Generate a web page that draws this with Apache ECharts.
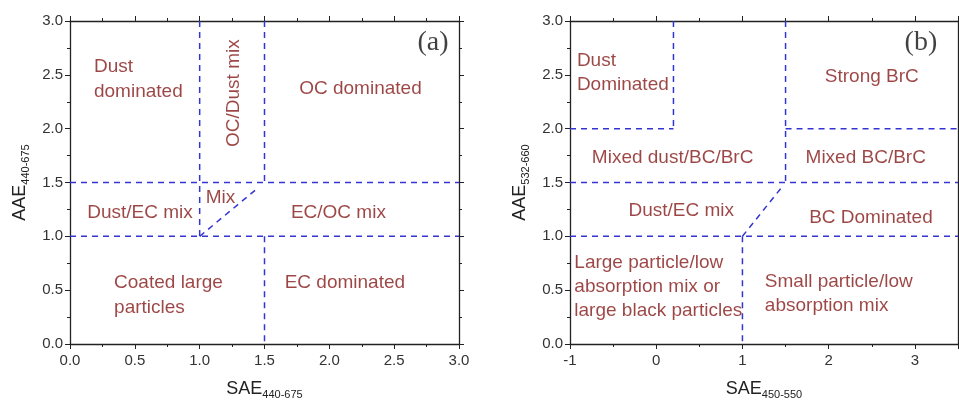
<!DOCTYPE html>
<html>
<head>
<meta charset="utf-8">
<script src="https://cdn.jsdelivr.net/npm/echarts@6/dist/echarts.min.js"></script>
<style>
  html, body { margin: 0; padding: 0; background: #fff; }
  #chart { width: 959px; height: 405px; }
</style>
</head>
<body>
<div id="chart"></div>
<script>
// boundary segments, each [[x0,y0],[x1,y1]] in data units
const linesA = [
  [[1, 3], [1, 1]],
  [[1.5, 3], [1.5, 1.5]],
  [[1.5, 1], [1.5, 0]],
  [[0, 1.5], [3, 1.5]],
  [[0, 1], [3, 1]],
  [[1, 1], [1.45, 1.45]]
];
const linesB = [
  [[0.2, 3], [0.2, 2]],
  [[-1, 2], [0.2, 2]],
  [[1.5, 3], [1.5, 1.5]],
  [[1.5, 2], [3.5, 2]],
  [[-1, 1.5], [3.5, 1.5]],
  [[-1, 1], [3.5, 1]],
  [[1, 1], [1.45, 1.45]],
  [[1, 1], [1, 0]]
];

// region labels: [x, y, text]
const centredA = [
  [2.24, 2.37, 'OC dominated'],
  [1.16, 1.36, 'Mix'],
  [0.54, 1.22, 'Dust/EC mix'],
  [2.07, 1.22, 'EC/OC mix'],
  [2.12, 0.57, 'EC dominated']
];
const leftA = [
  [0.185, 2.46, 'Dust\ndominated'],
  [0.34, 0.45, 'Coated large\nparticles']
];
const rotatedA = [[1.26, 2.33, 'OC/Dust mix']];
const centredB = [
  [2.5, 2.48, 'Strong BrC'],
  [0.19, 1.73, 'Mixed dust/BC/BrC'],
  [2.43, 1.73, 'Mixed BC/BrC'],
  [0.29, 1.24, 'Dust/EC mix'],
  [2.49, 1.17, 'BC Dominated']
];
const leftB = [
  [-0.92, 2.515, 'Dust\nDominated'],
  [-0.95, 0.53, 'Large particle/low\nabsorption mix or\nlarge black particles'],
  [1.26, 0.47, 'Small particle/low\nabsorption mix']
];
const panelTags = [[2.8, 2.8, '(a)'], [3.07, 2.8, '(b)']];

const blue = '#3434d2';
const red = '#841818';
const sans = 'Liberation Sans, Arial, sans-serif';

let chart = echarts.init(document.getElementById('chart'));

function xAx(gi, min, max, interval, name, sub, top) {
  return {
    type: 'value', gridIndex: gi, min: min, max: max, interval: interval,
    position: top ? 'top' : 'bottom',
    name: top ? '' : '{m|' + name + '}{s|' + sub + '}',
    nameLocation: 'middle', nameGap: 35,
    nameTextStyle: {
      rich: {
        m: { fontSize: 18, color: '#222', fontFamily: sans },
        s: { fontSize: 11, color: '#222', fontFamily: sans, padding: [10, 0, 0, 0] }
      }
    },
    axisLine: { onZero: false, lineStyle: { color: '#222', width: 1.3 } },
    axisTick: { show: true, length: 5, lineStyle: { color: '#222' } },
    minorTick: { show: true, splitNumber: 2, length: 3, lineStyle: { color: '#222' } },
    axisLabel: {
      show: !top, fontSize: 15, color: '#333', fontFamily: sans, margin: 9,
      showMaxLabel: interval === 0.5,
      formatter: v => interval === 0.5 ? v.toFixed(1) : String(v)
    },
    splitLine: { show: false }
  };
}
function yAx(gi, name, sub, right) {
  return {
    type: 'value', gridIndex: gi, min: 0, max: 3, interval: 0.5,
    position: right ? 'right' : 'left',
    name: right ? '' : '{m|' + name + '}{s|' + sub + '}',
    nameLocation: 'middle', nameRotate: 90, nameGap: 39,
    nameTextStyle: {
      rich: {
        m: { fontSize: 18, color: '#222', fontFamily: sans },
        s: { fontSize: 11, color: '#222', fontFamily: sans, padding: [10, 0, 0, 0] }
      }
    },
    axisLine: { onZero: false, lineStyle: { color: '#222', width: 1.3 } },
    axisTick: { show: true, length: 5, lineStyle: { color: '#222' } },
    minorTick: { show: true, splitNumber: 2, length: 3, lineStyle: { color: '#222' } },
    axisLabel: { show: !right, fontSize: 15, color: '#333', fontFamily: sans, margin: 7,
      formatter: v => v.toFixed(1) },
    splitLine: { show: false }
  };
}

let series = [];
function addLines(segs, gi) {
  segs.forEach(s => {
    series.push({
      type: 'line', xAxisIndex: gi * 2, yAxisIndex: gi * 2, data: s,
      symbol: 'none', silent: true,
      lineStyle: { color: blue, width: 1.5, type: [6, 5] }
    });
  });
}
function addText(rows, gi, extra) {
  series.push({
    type: 'scatter', xAxisIndex: gi * 2, yAxisIndex: gi * 2, symbolSize: 0, silent: true,
    data: rows.map(r => ({ value: [r[0], r[1]], name: r[2] })),
    label: Object.assign({
      show: true, position: 'inside', formatter: p => p.name,
      color: red, fontSize: 19, fontFamily: sans, lineHeight: 24,
      align: 'center', verticalAlign: 'middle'
    }, extra)
  });
}
addLines(linesA, 0);
addLines(linesB, 1);
addText(centredA, 0, {});
addText(leftA, 0, { align: 'left', lineHeight: 25 });
addText(rotatedA, 0, { rotate: 90 });
addText(centredB, 1, {});
addText(leftB, 1, { align: 'left' });
addText([panelTags[0]], 0, { color: '#111', fontSize: 28, fontFamily: 'Liberation Serif, Times New Roman, serif' });
addText([panelTags[1]], 1, { color: '#111', fontSize: 28, fontFamily: 'Liberation Serif, Times New Roman, serif' });

chart.setOption({
  animation: false,
  grid: [
    { left: 70, top: 21, width: 389, height: 323 },
    { left: 570, top: 21, width: 388, height: 323 }
  ],
  xAxis: [
    xAx(0, 0, 3, 0.5, 'SAE', '440-675', false),
    xAx(0, 0, 3, 0.5, '', '', true),
    xAx(1, -1, 3.5, 1, 'SAE', '450-550', false),
    xAx(1, -1, 3.5, 1, '', '', true)
  ],
  yAxis: [
    yAx(0, 'AAE', '440-675', false),
    yAx(0, '', '', true),
    yAx(1, 'AAE', '532-660', false),
    yAx(1, '', '', true)
  ],
  series: series
});
</script>
</body>
</html>
